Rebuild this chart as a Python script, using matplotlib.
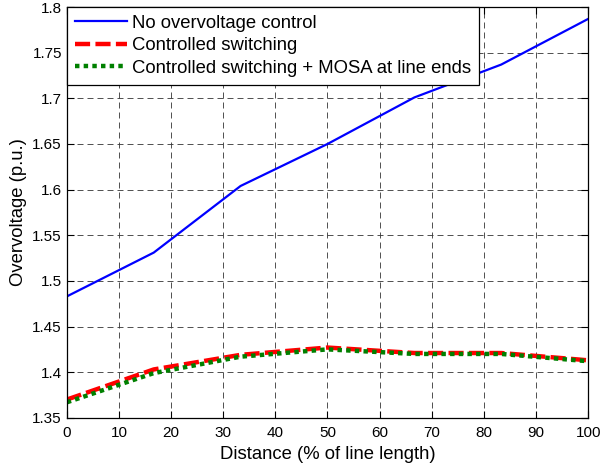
import numpy as np
import matplotlib.pyplot as plt

plt.rcParams['font.family'] = ['Liberation Sans', 'DejaVu Sans']

# distance along the line (% of line length)
distance = [0, 16.67, 33.33, 50, 66.67, 83.33, 100]

# peak overvoltage (p.u.)
no_control = [1.483, 1.531, 1.604, 1.650, 1.701, 1.737, 1.787]
controlled = [1.370, 1.403, 1.419, 1.427, 1.421, 1.421, 1.413]
controlled_mosa = [1.367, 1.399, 1.417, 1.425, 1.420, 1.420, 1.412]

labels = ['No overvoltage control', 'Controlled switching',
          'Controlled switching + MOSA at line ends']

fig = plt.figure(figsize=(6.02, 4.70), dpi=100)
ax = fig.add_axes([0.111, 0.111, 0.866, 0.874])

ax.plot(distance, no_control, color='#0000ff', linewidth=1.6, label=labels[0])
ax.plot(distance, controlled, color='#ff0000', linewidth=3.2,
        linestyle=(0, (3.4, 1.2)), label=labels[1])
ax.plot(distance, controlled_mosa, color='#008000', linewidth=3.2,
        linestyle=(0, (1, 0.95)), label=labels[2])

ax.set_xlim(0, 100)
ax.set_ylim(1.35, 1.8)
ax.set_xticks(np.arange(0, 101, 10))
ax.set_yticks(np.arange(1.35, 1.801, 0.05))
ax.set_yticklabels(['1.35', '1.4', '1.45', '1.5', '1.55', '1.6', '1.65',
                    '1.7', '1.75', '1.8'])

ax.grid(True, color='#333333', linestyle=(0, (7.2, 4.8)), linewidth=0.6)
ax.tick_params(direction='in', top=True, right=True, labelsize=11,
               length=5, width=0.8)
ax.tick_params(axis='x', pad=6)
for s in ax.spines.values():
    s.set_linewidth(0.9)

ax.set_xlabel('Distance (% of line length)', fontsize=13.3, labelpad=4)
ax.set_ylabel('Overvoltage (p.u.)', fontsize=13.3, labelpad=4)

leg = ax.legend(loc='upper left', fontsize=13.3, handlelength=2.85,
                fancybox=False, framealpha=1, edgecolor='black',
                borderaxespad=0, borderpad=0.42, labelspacing=0.3,
                handletextpad=0.25)
leg.get_frame().set_linewidth(0.9)

fig.savefig('out.png', dpi=100)
